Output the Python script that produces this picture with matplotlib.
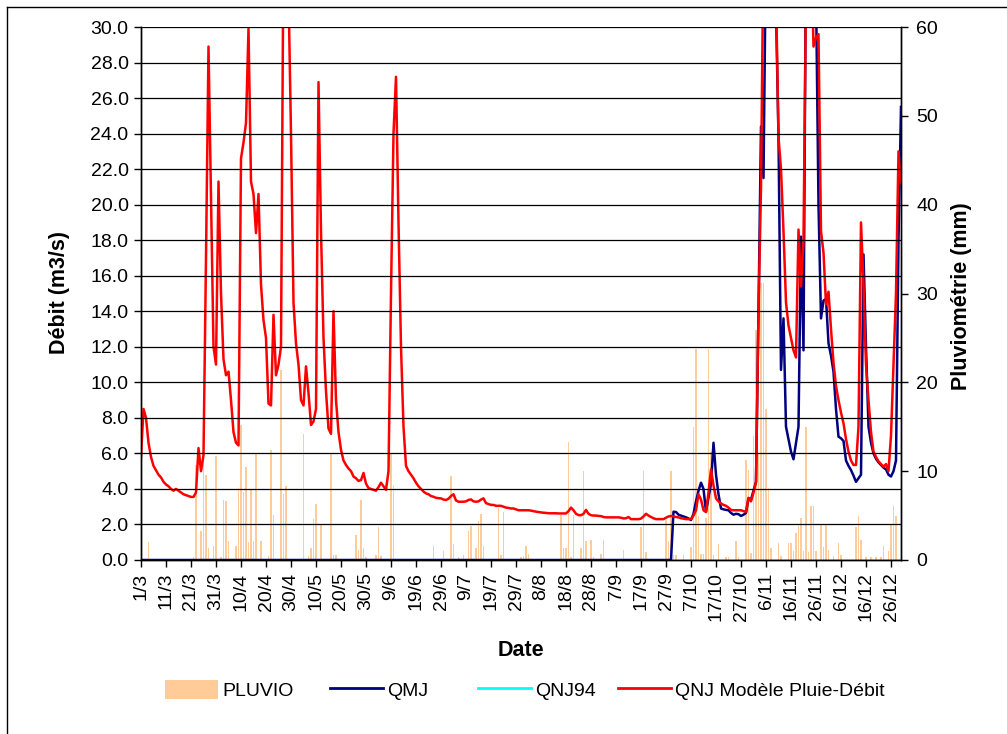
import numpy as np
import matplotlib
matplotlib.use('Agg')
import matplotlib.pyplot as plt
from matplotlib.patches import Patch
from matplotlib.lines import Line2D

plt.rcParams['font.family'] = ['Liberation Sans', 'DejaVu Sans']

# ---------------- data ----------------
x_labels = ["1/3", "11/3", "21/3", "31/3", "10/4", "20/4", "30/4", "10/5", "20/5", "30/5",
            "9/6", "19/6", "29/6", "9/7", "19/7", "29/7", "8/8", "18/8", "28/8", "7/9",
            "17/9", "27/9", "7/10", "17/10", "27/10", "6/11", "16/11", "26/11", "6/12",
            "16/12", "26/12"]

# QNJ Modèle Pluie-Débit (m3/s), daily from 1/3
qnj_modele = [
    5.8, 8.5, 8.0, 6.6, 5.8, 5.3, 5.05, 4.8, 4.65, 4.4,
    4.25, 4.15, 4.0, 3.9, 4.0, 3.9, 3.8, 3.7, 3.65, 3.6,
    3.55, 3.55, 3.8, 6.3, 5.0, 5.9, 17.0, 28.9, 20.5, 12.0,
    11.0, 21.3, 15.0, 11.3, 10.4, 10.6, 9.0, 7.2, 6.6, 6.45,
    22.6, 23.5, 24.6, 29.9, 21.3, 20.6, 18.4, 20.6, 15.5, 13.5,
    12.5, 8.8, 8.7, 13.8, 10.4, 11.0, 12.0, 35.0, 40.0, 32.0,
    24.0, 14.5, 12.2, 11.0, 9.0, 8.7, 10.9, 9.4, 7.6, 7.8,
    8.5, 26.9, 18.5, 12.5, 9.5, 7.4, 7.1, 14.0, 9.0, 7.2,
    6.2, 5.6, 5.35, 5.15, 5.0, 4.7, 4.6, 4.45, 4.5, 4.9,
    4.3, 4.05, 4.0, 3.95, 3.9, 4.1, 4.35, 4.15, 3.95, 5.0,
    15.0, 24.0, 27.2, 19.0, 12.0, 7.5, 5.3, 5.0, 4.8, 4.6,
    4.35, 4.15, 4.0, 3.85, 3.75, 3.7, 3.6, 3.56, 3.5, 3.48,
    3.47, 3.4, 3.38, 3.45, 3.6, 3.7, 3.35, 3.28, 3.28, 3.28,
    3.3, 3.38, 3.41, 3.3, 3.28, 3.3, 3.4, 3.47, 3.2, 3.15,
    3.1, 3.1, 3.05, 3.05, 3.05, 3.0, 2.95, 2.93, 2.9, 2.9,
    2.85, 2.8, 2.8, 2.8, 2.8, 2.8, 2.78, 2.75, 2.72, 2.7,
    2.68, 2.66, 2.65, 2.63, 2.63, 2.63, 2.63, 2.62, 2.62, 2.62,
    2.62, 2.75, 2.95, 2.8, 2.6, 2.53, 2.52, 2.6, 2.82, 2.6,
    2.52, 2.5, 2.5, 2.48, 2.47, 2.42, 2.4, 2.4, 2.4, 2.4,
    2.4, 2.4, 2.38, 2.34, 2.35, 2.42, 2.3, 2.3, 2.3, 2.3,
    2.33, 2.45, 2.6, 2.5, 2.42, 2.35, 2.3, 2.3, 2.3, 2.3,
    2.38, 2.45, 2.48, 2.45, 2.42, 2.4, 2.35, 2.33, 2.3, 2.3,
    2.3, 2.5, 2.8, 3.7, 3.4, 2.8, 2.7, 3.8, 5.1, 4.2,
    3.47, 3.3, 3.18, 3.1, 3.05, 2.95, 2.82, 2.8, 2.8, 2.8,
    2.8, 2.75, 2.72, 3.5, 3.3, 3.8, 4.4, 14.0, 21.0, 35.0,
    40.0, 45.0, 42.0, 38.0, 32.0, 23.8, 22.0, 18.5, 14.5, 13.2,
    12.5, 11.8, 11.4, 18.6, 15.4, 18.0, 32.0, 40.0, 35.0, 28.9,
    29.4, 29.6, 18.5, 17.3, 14.4, 15.1, 13.0, 11.1, 9.8, 9.0,
    8.3, 7.7, 6.8, 6.1, 5.6, 5.35, 5.35, 7.5, 19.0, 15.5,
    11.0, 9.0, 7.2, 6.1, 5.8, 5.55, 5.4, 5.25, 5.4, 5.0,
    7.0, 11.0, 15.0, 23.0, 21.2,
]

# QMJ (m3/s): no measurement (plotted as 0) before 1/10
qmj = [0.0] * 213 + [
    2.72, 2.7, 2.55, 2.5, 2.45, 2.4, 2.34,
    2.25, 2.6, 3.3, 3.9, 4.35, 4.0, 2.72, 3.5, 4.3, 6.6,
    4.8, 3.7, 2.9, 2.85, 2.82, 2.8, 2.65, 2.55, 2.6, 2.58,
    2.48, 2.55, 2.65, 3.47, 3.4, 3.9, 4.4, 14.0, 24.4, 21.5,
    35.0, 42.0, 40.0, 36.0, 31.0, 23.8, 10.7, 13.6, 7.5, 6.8,
    6.1, 5.67, 6.6, 7.5, 18.2, 11.8, 35.0, 40.0, 45.0, 40.0,
    32.0, 20.0, 13.6, 14.6, 14.7, 12.2, 11.5, 10.6, 8.5, 6.94,
    6.85, 6.7, 5.6, 5.3, 5.06, 4.75, 4.4, 4.6, 4.8, 17.2,
    12.0, 7.5, 6.6, 6.0, 5.7, 5.5, 5.35, 5.2, 5.1, 4.8,
    4.7, 5.0, 5.6, 18.0, 25.5,
]

# PLUVIO (mm): rainy days (index from 1/3) and amounts
pluvio_days = [0, 3, 21, 22, 24, 25, 26, 27, 29, 30, 32, 33, 34, 35, 38, 39, 40, 41, 42, 43,
               44, 45, 46, 48, 51, 52, 53, 56, 57, 58, 65, 67, 68, 69, 70, 72, 76, 77, 78,
               86, 87, 88, 89, 90, 94, 95, 96, 100, 101, 117, 121, 124, 125, 127, 129, 131,
               132, 134, 135, 136, 137, 143, 144, 145, 152, 153, 154, 155, 168, 169, 170,
               171, 172, 173, 176, 177, 178, 180, 181, 184, 185, 193, 200, 201, 202, 210,
               211, 212, 213, 214, 217, 220, 221, 222, 223, 224, 225, 226, 227, 228, 229,
               231, 234, 235, 238, 239, 242, 243, 244, 245, 246, 247, 248, 249, 250, 251,
               252, 255, 256, 259, 260, 261, 262, 263, 264, 265, 266, 267, 268, 269, 270,
               272, 273, 274, 275, 277, 279, 280, 286, 287, 288, 290, 292, 294, 296, 297,
               299, 300, 301, 302]
pluvio_mm = [4.6, 2.0, 0.3, 10.7, 3.3, 18.0, 9.6, 1.3, 1.6, 11.7, 0.3, 6.75, 6.6, 2.1, 1.6,
             8.1, 15.2, 7.6, 10.5, 2.0, 7.9, 2.1, 12.1, 2.1, 0.5, 12.4, 5.1, 21.4, 7.4, 8.3,
             14.2, 0.5, 1.4, 4.6, 6.3, 3.9, 12.1, 0.6, 0.6,
             2.8, 1.1, 6.75, 1.3, 0.3, 0.6, 3.7, 0.4, 12.0, 8.4, 1.6, 1.0, 9.4, 1.8, 0.3,
             0.6, 3.3, 3.8, 1.3, 4.4, 5.2, 1.6, 5.8, 0.6, 5.4, 0.3, 0.4, 1.6, 0.7, 5.06,
             1.3, 1.3, 13.3, 0.3, 5.06, 1.3, 10.0, 2.1, 2.3, 0.3, 0.7, 2.3, 1.1, 3.75,
             10.0, 0.9, 4.5, 2.1, 10.0, 0.6, 0.6, 0.6, 1.5, 15.0, 23.8, 4.9, 0.7, 0.7,
             4.7, 23.8, 12.2, 0.6, 1.8, 0.3, 0.3, 2.1, 0.3, 11.3, 10.1, 0.8, 14.0, 25.9,
             12.0, 31.2, 31.2, 17.0, 8.1, 1.3, 1.9, 0.4, 1.9, 1.9, 1.0, 3.0, 3.8, 4.7,
             1.0, 15.0, 0.9, 6.1, 6.1, 1.0, 3.9, 1.5, 3.9, 1.1, 0.4, 1.9, 0.6, 3.7, 5.0,
             2.3, 0.3, 0.3, 0.3, 0.3, 1.6, 1.0, 4.1, 6.1, 5.0]

# ---------------- figure ----------------
n = len(qnj_modele)
days = np.arange(n)
pluvio = np.zeros(n)
pluvio[pluvio_days] = pluvio_mm
qnj94 = np.full(n, np.nan)   # QNJ94: no values shown on the chart

W, H = 1007, 734
fig = plt.figure(figsize=(W / 100, H / 100), dpi=100)
ax = fig.add_axes([141 / W, 1 - 560 / H, 760 / W, 533 / H])
ax2 = ax.twinx()
ax.set_zorder(ax2.get_zorder() + 1)
ax.patch.set_visible(False)

FS = 14
FT = 15.5

ax2.bar(days, pluvio, width=0.72, color='#FFCC99', linewidth=0)
ax.plot(days, qnj94, color='#00FFFF', lw=1.8)
ax.plot(days, qmj, color='#000080', lw=1.8)
ax.plot(days, qnj_modele, color='#FF0000', lw=1.8)

ax.set_xlim(0, n - 1)
ax.set_ylim(0, 30)
ax2.set_ylim(0, 60)

yt = np.arange(0, 31, 2)
ax.set_yticks(yt)
ax.set_yticklabels([f'{v:.1f}' for v in yt])
ax2.set_yticks(np.arange(0, 61, 10))
ax.set_xticks(np.arange(0, n, 10))
ax.set_xticklabels(x_labels, rotation=90)

ax.grid(axis='y', color='black', lw=0.9)
ax.set_axisbelow(False)
for a in (ax, ax2):
    a.spines['top'].set_visible(False)
    for s in ('left', 'right', 'bottom'):
        a.spines[s].set_color('black')
        a.spines[s].set_linewidth(1.0)
ax.tick_params(axis='both', direction='out', length=5, width=1, labelsize=FS, pad=4)
ax2.tick_params(axis='y', direction='out', length=5, width=1, labelsize=FS, pad=6)

fig.text(60 / W, 1 - 293 / H, 'Débit (m3/s)', rotation=90, ha='center', va='center',
         fontsize=FT, fontweight='bold')
fig.text(962 / W, 1 - 296 / H, 'Pluviométrie (mm)', rotation=90, ha='center', va='center',
         fontsize=FT, fontweight='bold')
fig.text(521 / W, 1 - 650 / H, 'Date', ha='center', va='center', fontsize=FT,
         fontweight='bold')

# legend: one entry at a time, placed like the original
entries = [
    (Patch(facecolor='#FFCC99', edgecolor='none'), 'PLUVIO', 165),
    (Line2D([], [], color='#000080', lw=2), 'QMJ', 330),
    (Line2D([], [], color='#00FFFF', lw=2), 'QNJ94', 478),
    (Line2D([], [], color='#FF0000', lw=2), 'QNJ Modèle Pluie-Débit', 618),
]
for h, lab, x0 in entries:
    fig.legend([h], [lab], loc='center left', bbox_to_anchor=(x0 / W, 1 - 690 / H),
               frameon=False, fontsize=FS, handlelength=2.7, handletextpad=0.25,
               handleheight=1.1, borderpad=0, borderaxespad=0)

# outer chart-area border
fig.add_artist(Line2D([7 / W, 7 / W], [0, 1 - 7 / H], color='black', lw=1,
                      transform=fig.transFigure))
fig.add_artist(Line2D([7 / W, 1], [1 - 7 / H, 1 - 7 / H], color='black', lw=1,
                      transform=fig.transFigure))

fig.savefig('out.png', dpi=100)
